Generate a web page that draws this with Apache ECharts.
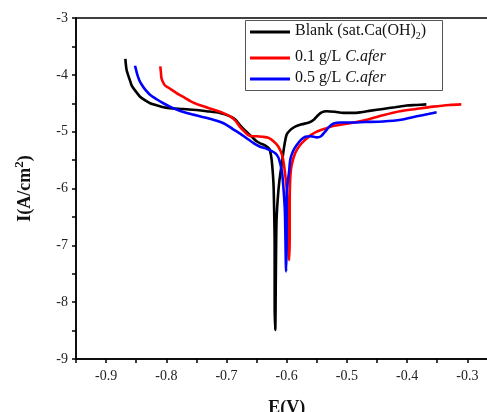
<!DOCTYPE html>
<html><head><meta charset="utf-8">
<script src="https://cdn.jsdelivr.net/npm/echarts@6/dist/echarts.min.js"></script>
<style>html,body{margin:0;padding:0;background:#fff}#c{width:487px;height:412px}</style>
</head><body><div id="c"></div>
<script>
var seriesNames = ['Blank', 'C01', 'C05'];
var blankE = [-0.868,-0.866,-0.861,-0.857,-0.850,-0.844,-0.835,-0.827,-0.815,-0.805,-0.790,-0.772,-0.750,-0.733,-0.711,-0.694,-0.685,-0.678,-0.671,-0.664,-0.657,-0.650,-0.643,-0.636,-0.629,-0.626,-0.624,-0.622,-0.621,-0.620,-0.620,-0.619,-0.618,-0.617,-0.615,-0.612,-0.608,-0.604,-0.600,-0.593,-0.586,-0.575,-0.563,-0.555,-0.548,-0.542,-0.534,-0.520,-0.506,-0.490,-0.478,-0.460,-0.440,-0.420,-0.401,-0.385,-0.368];
var blankI = [-3.72,-3.91,-4.08,-4.20,-4.30,-4.38,-4.45,-4.50,-4.54,-4.57,-4.59,-4.60,-4.62,-4.64,-4.67,-4.73,-4.79,-4.88,-4.96,-5.03,-5.10,-5.17,-5.21,-5.24,-5.30,-5.42,-5.60,-5.90,-6.30,-7.00,-8.00,-8.49,-7.50,-6.60,-6.20,-5.85,-5.55,-5.25,-5.05,-4.96,-4.91,-4.87,-4.84,-4.79,-4.71,-4.66,-4.64,-4.65,-4.67,-4.67,-4.66,-4.63,-4.60,-4.57,-4.54,-4.53,-4.52];
var c01E = [-0.810,-0.809,-0.808,-0.805,-0.802,-0.793,-0.783,-0.770,-0.755,-0.740,-0.722,-0.708,-0.694,-0.685,-0.678,-0.671,-0.664,-0.657,-0.650,-0.640,-0.630,-0.622,-0.614,-0.608,-0.605,-0.602,-0.600,-0.598,-0.596,-0.595,-0.595,-0.594,-0.592,-0.586,-0.578,-0.569,-0.560,-0.550,-0.537,-0.523,-0.500,-0.480,-0.467,-0.440,-0.412,-0.385,-0.357,-0.330,-0.310];
var c01I = [-3.85,-3.95,-4.06,-4.14,-4.19,-4.25,-4.32,-4.40,-4.49,-4.55,-4.61,-4.66,-4.73,-4.81,-4.91,-4.99,-5.06,-5.08,-5.08,-5.09,-5.11,-5.17,-5.26,-5.40,-5.55,-5.80,-6.00,-6.50,-7.26,-6.80,-6.20,-5.80,-5.60,-5.38,-5.24,-5.14,-5.06,-5.00,-4.95,-4.90,-4.86,-4.82,-4.79,-4.71,-4.64,-4.60,-4.56,-4.53,-4.52];
var c05E = [-0.852,-0.850,-0.848,-0.845,-0.841,-0.835,-0.827,-0.816,-0.805,-0.794,-0.783,-0.770,-0.755,-0.740,-0.722,-0.710,-0.700,-0.690,-0.678,-0.666,-0.655,-0.645,-0.636,-0.627,-0.619,-0.614,-0.611,-0.608,-0.6056,-0.603,-0.601,-0.600,-0.600,-0.599,-0.596,-0.594,-0.589,-0.583,-0.576,-0.569,-0.560,-0.550,-0.543,-0.537,-0.530,-0.523,-0.510,-0.495,-0.470,-0.440,-0.410,-0.384,-0.365,-0.351];
var c05I = [-3.84,-3.92,-4.00,-4.09,-4.17,-4.26,-4.35,-4.43,-4.50,-4.56,-4.61,-4.66,-4.70,-4.74,-4.79,-4.83,-4.88,-4.95,-5.03,-5.12,-5.20,-5.26,-5.29,-5.33,-5.38,-5.45,-5.55,-5.70,-5.96,-6.40,-7.46,-6.80,-6.20,-5.96,-5.70,-5.49,-5.33,-5.23,-5.14,-5.09,-5.08,-5.10,-5.08,-5.01,-4.92,-4.86,-4.84,-4.84,-4.83,-4.82,-4.79,-4.73,-4.69,-4.66];
var xTickLabels = ['-0.9','-0.8','-0.7','-0.6','-0.5','-0.4','-0.3'];
var yTickLabels = ['-3','-4','-5','-6','-7','-8','-9'];

function zip(a, b) { return a.map(function (v, i) { return [v, b[i]]; }); }
var serif = '"Liberation Serif","DejaVu Serif",serif';
var colors = ['#000000', '#ff0000', '#0000ff'];
var legendText = {
  Blank: '{a|Blank (sat.Ca(OH)}{s|2}{a|)}',
  C01: '{a|0.1 g/L }{i|C.afer}',
  C05: '{a|0.5 g/L }{i|C.afer}'
};
var rich = {
  a: {fontSize: 16, fontFamily: serif, color: '#111', lineHeight: 18, verticalAlign: 'top'},
  i: {fontSize: 16, fontFamily: serif, fontStyle: 'italic', color: '#111', lineHeight: 18, verticalAlign: 'top'},
  s: {fontSize: 10, fontFamily: serif, color: '#111', lineHeight: 10, verticalAlign: 'top', padding: [8, 0, 0, 0]}
};
function mkLegend(name, top) {
  return {
    data: [name], left: 250, top: top, orient: 'horizontal',
    icon: 'rect', itemWidth: 40, itemHeight: 3, itemGap: 4,
    formatter: function (n) { return legendText[n]; },
    textStyle: {rich: rich, padding: [0, 0, 0, 0]},
    selectedMode: false, padding: 0
  };
}
var chart = echarts.init(document.getElementById('c'), null, {renderer: 'canvas'});
chart.setOption({
  animation: false,
  backgroundColor: '#fff',
  grid: {left: 76, top: 18, width: 421.4, height: 341, outerBoundsMode: 'none', containLabel: false,
    show: true, borderColor: '#000', borderWidth: 1.5, backgroundColor: 'transparent'},
  legend: [mkLegend('Blank', 23), mkLegend('C01', 49), mkLegend('C05', 70)],
  graphic: [{type: 'rect', left: 243, top: 18, shape: {width: 197, height: 70}, style: {fill: 'none', stroke: '#555', lineWidth: 1}, z: 10}],
  xAxis: {
    type: 'value', min: -0.95, max: -0.25, interval: 0.05,
    name: 'E(V)', nameLocation: 'middle', nameGap: 40,
    nameTextStyle: {fontFamily: serif, fontSize: 18, fontWeight: 'bold', color: '#111'},
    axisLine: {show: true, onZero: false, lineStyle: {color: '#000', width: 1.5}},
    axisTick: {show: true, length: 4, lineStyle: {color: '#000', width: 1.5}},
    splitLine: {show: false},
    axisLabel: {
      margin: 10, fontFamily: serif, fontSize: 14, color: '#222', hideOverlap: false,
      formatter: function (v) {
        var k = Math.round(v * 100);
        if (k % 10 !== 0) return '';
        var s = (k / 100).toFixed(1);
        return xTickLabels.indexOf(s) >= 0 ? s : '';
      }
    }
  },
  yAxis: {
    type: 'value', min: -9, max: -3, interval: 1,
    name: '{b|I(A/cm}{p|2}{b|)}', nameLocation: 'middle', nameGap: 42, nameRotate: 90,
    nameTextStyle: {rich: {
      b: {fontFamily: serif, fontSize: 18, fontWeight: 'bold', color: '#111', verticalAlign: 'bottom'},
      p: {fontFamily: serif, fontSize: 13, fontWeight: 'bold', color: '#111', verticalAlign: 'bottom', padding: [0, 0, 8, 0]}
    }},
    axisLine: {show: true, onZero: false, lineStyle: {color: '#000', width: 1.5}},
    axisTick: {show: true, length: 4, lineStyle: {color: '#000', width: 1.5}},
    minorTick: {show: true, splitNumber: 2, length: 4, lineStyle: {color: '#000', width: 1.5}},
    splitLine: {show: false},
    axisLabel: {
      margin: 8, fontFamily: serif, fontSize: 14, color: '#222',
      formatter: function (v) { var s = String(Math.round(v)); return yTickLabels.indexOf(s) >= 0 ? s : ''; }
    }
  },
  series: [
    {name: 'Blank', type: 'line', data: zip(blankE, blankI)},
    {name: 'C01', type: 'line', data: zip(c01E, c01I)},
    {name: 'C05', type: 'line', data: zip(c05E, c05I)}
  ].map(function (s, i) {
    s.showSymbol = false; s.symbol = 'none'; s.smooth = 0.25; s.clip = true;
    s.lineStyle = {color: colors[i], width: 2.6}; s.itemStyle = {color: colors[i]};
    return s;
  })
});
</script></body></html>
